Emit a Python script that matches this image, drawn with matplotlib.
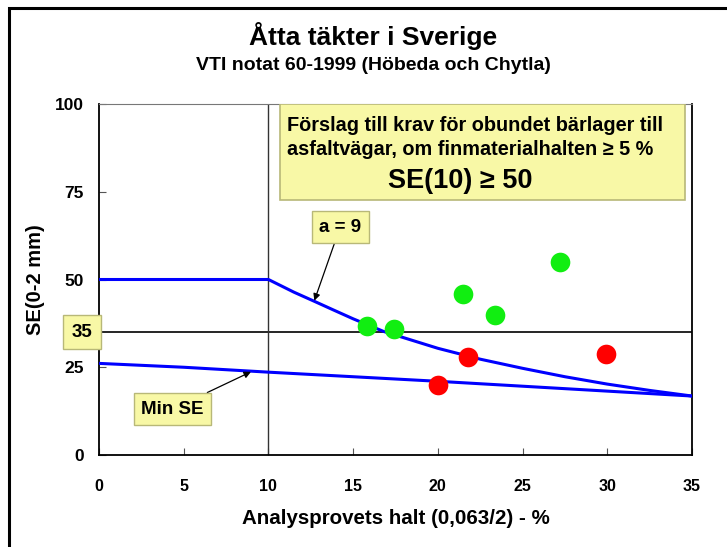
import matplotlib
matplotlib.use("Agg")
import matplotlib.pyplot as plt
from matplotlib.patches import Rectangle

plt.rcParams['font.family'] = ['Liberation Sans', 'DejaVu Sans']
plt.rcParams['font.weight'] = 'bold'

# Data
a9_x = [0, 5, 10, 11.5, 12.75, 13.8, 15, 16.8, 20, 22.5, 25, 27.5, 30, 32.5, 35]
a9_y = [50, 50, 50, 46.4, 43.7, 41.4, 38.8, 35.2, 30.4, 27.3, 24.7, 22.3, 20.2, 18.4, 16.8]
min_x = [0, 5, 10, 15, 20, 25, 30, 35]
min_se = [26.1, 25.0, 23.6, 22.3, 21.0, 19.6, 18.2, 16.8]
green_x = [15.8, 17.4, 21.5, 23.4, 27.2]
green_y = [36.8, 35.9, 46.0, 39.8, 55.0]
red_x = [20.0, 21.8, 29.9]
red_y = [19.9, 27.9, 28.9]
x_ticks = [0, 5, 10, 15, 20, 25, 30, 35]
y_ticks = [0, 25, 50, 75, 100]
limit_y = 35
limit_x = 10

YELLOW = '#F8F8A6'
YEDGE = '#B8B878'

fig = plt.figure(figsize=(7.27, 5.47), dpi=100)
ax = fig.add_axes([99/727, 1-455/547, (692-99)/727, (455-104)/547])

# figure frame
fig.patches.append(Rectangle((9/727, -0.02), 1.05, 0.9854 + 0.02, transform=fig.transFigure,
                             fill=False, edgecolor='black', linewidth=2.2))

ax.plot(a9_x, a9_y, color='#0000FF', lw=2.2, zorder=3)
ax.plot(min_x, min_se, color='#0000FF', lw=2.2, zorder=3)
ax.axhline(limit_y, color='black', lw=1.2, zorder=2)
ax.axvline(limit_x, color='#333333', lw=1.0, zorder=2)
ax.scatter(green_x, green_y, s=200, color='#11EE11', zorder=4, linewidths=0)
ax.scatter(red_x, red_y, s=200, color='#FF0000', zorder=4, linewidths=0)

ax.set_xlim(0, 35)
ax.set_ylim(0, 100)
ax.set_xticks(x_ticks)
ax.set_yticks(y_ticks)
ax.tick_params(axis='x', direction='in', length=5, pad=17, labelsize=11.5, color='#555555')
ax.tick_params(axis='y', direction='in', length=5, pad=11, labelsize=12.5, color='#555555')
for lbl in ax.get_xticklabels() + ax.get_yticklabels():
    lbl.set_fontweight('bold')
ax.spines['top'].set_color('#777777')
for s in ['left', 'right', 'bottom']:
    ax.spines[s].set_color('black')
    ax.spines[s].set_linewidth(1.3)

ax.set_xlabel('Analysprovets halt (0,063/2) - %', fontsize=14.8, fontweight='bold', labelpad=11)
ax.set_ylabel('SE(0-2 mm)', fontsize=14.5, fontweight='bold', labelpad=7)

fig.text(373/727, 1-36/547, 'Åtta täkter i Sverige', ha='center', va='center',
         fontsize=19, fontweight='bold')
fig.text(373/727, 1-65/547, 'VTI notat 60-1999 (Höbeda och Chytla)', ha='center', va='center',
         fontsize=14, fontweight='bold')

# big yellow note box
ax.add_patch(Rectangle((10.68, 72.6), 34.6-10.68, 27.3, facecolor=YELLOW, edgecolor=YEDGE,
                       lw=1.2, zorder=5))
ax.text(11.12, 94.0, 'Förslag till krav för obundet bärlager till', fontsize=14.3,
        fontweight='bold', va='center', ha='left', zorder=6)
ax.text(11.12, 87.0, 'asfaltvägar, om finmaterialhalten ≥ 5 %', fontsize=14.3,
        fontweight='bold', va='center', ha='left', zorder=6)
ax.text(21.3, 78.0, 'SE(10) ≥ 50', fontsize=19.5, fontweight='bold', va='center', ha='center', zorder=6)

# 35 label box
ax.text(-1.0, limit_y, '35', fontsize=13.5, fontweight='bold', ha='center', va='center',
        clip_on=False, zorder=6,
        bbox=dict(boxstyle='square,pad=0.45', facecolor=YELLOW, edgecolor=YEDGE, lw=1))

# annotations
ax.annotate('a = 9', xy=(12.71, 43.96), xytext=(14.23, 64.9), fontsize=13.5, fontweight='bold',
            ha='center', va='center', zorder=6,
            bbox=dict(boxstyle='square,pad=0.4', facecolor=YELLOW, edgecolor=YEDGE, lw=1),
            arrowprops=dict(arrowstyle='-|>', color='black', lw=0.9, shrinkA=0, shrinkB=0,
                            mutation_scale=10))
ax.annotate('Min SE', xy=(8.97, 23.7), xytext=(4.34, 13.1), fontsize=13.5, fontweight='bold',
            ha='center', va='center', zorder=6,
            bbox=dict(boxstyle='square,pad=0.4', facecolor=YELLOW, edgecolor=YEDGE, lw=1),
            arrowprops=dict(arrowstyle='-|>', color='black', lw=0.9, shrinkA=0, shrinkB=0,
                            mutation_scale=10))

fig.savefig('out.png', dpi=100)
